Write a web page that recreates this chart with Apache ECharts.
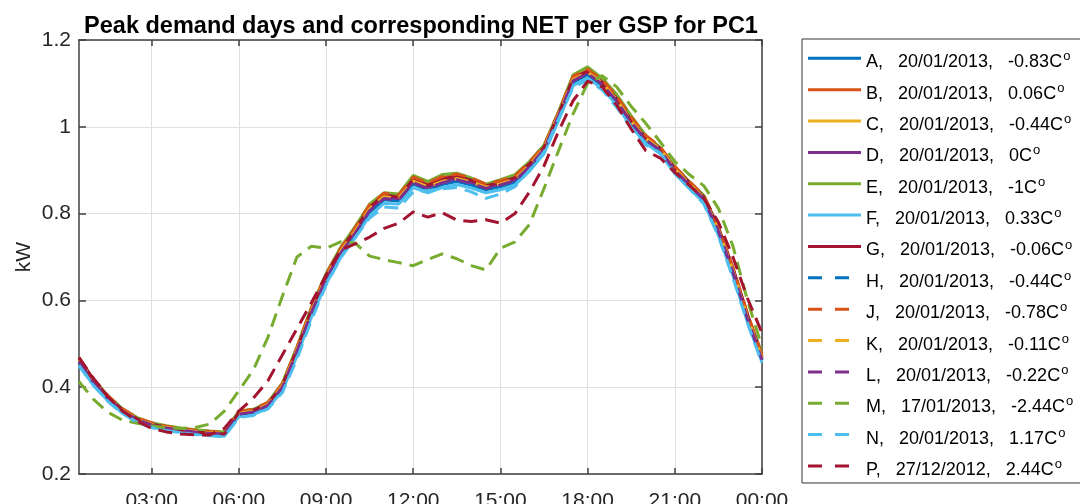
<!DOCTYPE html>
<html>
<head>
<meta charset="utf-8">
<script src="https://cdn.jsdelivr.net/npm/echarts@6/dist/echarts.min.js"></script>
<style>
  html, body { margin: 0; padding: 0; background: #ffffff; }
  #chart { width: 1080px; height: 504px; }
</style>
</head>
<body>
<div id="chart"></div>
<script>
// Half-hourly settlement periods, 00:30 through midnight
const times = [
  '00:30','01:00','01:30','02:00','02:30','03:00','03:30','04:00','04:30','05:00','05:30','06:00',
  '06:30','07:00','07:30','08:00','08:30','09:00','09:30','10:00','10:30','11:00','11:30','12:00',
  '12:30','13:00','13:30','14:00','14:30','15:00','15:30','16:00','16:30','17:00','17:30','18:00',
  '18:30','19:00','19:30','20:00','20:30','21:00','21:30','22:00','22:30','23:00','23:30','00:00'
];
const tickLabels = ['03:00','06:00','09:00','12:00','15:00','18:00','21:00','00:00'];
const yTicks = [0.2, 0.4, 0.6, 0.8, 1.0, 1.2];

// GSP groups, peak day and day temperature
const names = ['A','B','C','D','E','F','G','H','J','K','L','M','N','P'];
const dates = ['20/01/2013','20/01/2013','20/01/2013','20/01/2013','20/01/2013','20/01/2013','20/01/2013',
               '20/01/2013','20/01/2013','20/01/2013','20/01/2013','17/01/2013','20/01/2013','27/12/2012'];
const temps = ['-0.83','0.06','-0.44','0','-1','0.33','-0.06','-0.44','-0.78','-0.11','-0.22','-2.44','1.17','2.44'];

// Demand profiles (kW)
const netA = [0.458,0.410,0.373,0.344,0.324,0.312,0.305,0.300,0.296,0.293,0.291,0.337,0.342,0.357,0.398,0.480,0.570,0.647,0.707,0.752,0.803,0.832,0.829,0.868,0.855,0.867,0.874,0.866,0.855,0.862,0.872,0.905,0.945,1.022,1.102,1.120,1.095,1.057,1.007,0.968,0.944,0.898,0.864,0.831,0.757,0.663,0.555,0.462];
const netB = [0.466,0.418,0.379,0.349,0.329,0.317,0.309,0.304,0.300,0.297,0.295,0.343,0.348,0.364,0.407,0.490,0.581,0.658,0.718,0.765,0.818,0.845,0.841,0.882,0.869,0.883,0.889,0.880,0.866,0.874,0.885,0.916,0.955,1.032,1.114,1.131,1.106,1.069,1.020,0.978,0.952,0.907,0.872,0.840,0.767,0.673,0.566,0.470];
const netC = [0.463,0.415,0.377,0.347,0.327,0.315,0.308,0.303,0.299,0.296,0.294,0.341,0.346,0.361,0.404,0.487,0.578,0.655,0.715,0.761,0.813,0.841,0.837,0.878,0.864,0.877,0.884,0.875,0.862,0.870,0.881,0.913,0.952,1.030,1.110,1.127,1.103,1.065,1.015,0.974,0.950,0.904,0.870,0.837,0.764,0.670,0.562,0.468];
const netD = [0.462,0.414,0.376,0.346,0.326,0.314,0.307,0.302,0.298,0.295,0.293,0.340,0.345,0.360,0.402,0.485,0.575,0.652,0.712,0.758,0.810,0.838,0.834,0.874,0.860,0.873,0.880,0.872,0.860,0.868,0.878,0.910,0.950,1.028,1.108,1.125,1.100,1.062,1.012,0.972,0.948,0.902,0.868,0.835,0.762,0.668,0.560,0.466];
const netE = [0.465,0.418,0.380,0.350,0.330,0.318,0.311,0.306,0.302,0.299,0.297,0.345,0.349,0.365,0.410,0.493,0.585,0.662,0.722,0.770,0.822,0.848,0.845,0.888,0.874,0.890,0.893,0.882,0.868,0.878,0.890,0.920,0.958,1.035,1.120,1.138,1.112,1.075,1.025,0.980,0.952,0.908,0.874,0.842,0.768,0.672,0.565,0.478];
const netF = [0.450,0.404,0.368,0.340,0.320,0.308,0.301,0.296,0.292,0.289,0.287,0.332,0.337,0.352,0.392,0.472,0.562,0.638,0.698,0.744,0.795,0.824,0.822,0.860,0.848,0.860,0.867,0.859,0.848,0.855,0.866,0.898,0.938,1.015,1.095,1.112,1.088,1.050,1.000,0.962,0.938,0.892,0.858,0.825,0.750,0.657,0.550,0.457];
const netG = [0.468,0.417,0.378,0.348,0.327,0.315,0.308,0.302,0.297,0.294,0.292,0.342,0.347,0.362,0.405,0.488,0.580,0.657,0.716,0.763,0.815,0.843,0.838,0.880,0.865,0.880,0.886,0.877,0.864,0.872,0.883,0.915,0.953,1.030,1.112,1.128,1.103,1.065,1.015,0.975,0.950,0.905,0.872,0.838,0.768,0.675,0.568,0.472];
const netH = [0.460,0.412,0.374,0.345,0.325,0.313,0.306,0.301,0.297,0.294,0.292,0.338,0.343,0.358,0.400,0.482,0.572,0.650,0.710,0.755,0.806,0.835,0.831,0.871,0.858,0.870,0.877,0.869,0.857,0.865,0.875,0.907,0.947,1.025,1.105,1.122,1.097,1.060,1.010,0.970,0.946,0.900,0.866,0.833,0.760,0.665,0.558,0.464];
const netJ = [0.467,0.419,0.380,0.350,0.330,0.318,0.310,0.305,0.301,0.298,0.296,0.344,0.349,0.365,0.408,0.492,0.583,0.660,0.720,0.767,0.820,0.847,0.843,0.884,0.871,0.885,0.891,0.882,0.868,0.876,0.887,0.918,0.957,1.034,1.116,1.133,1.108,1.071,1.022,0.980,0.954,0.909,0.874,0.842,0.770,0.676,0.570,0.474];
const netK = [0.462,0.414,0.376,0.346,0.326,0.314,0.307,0.302,0.298,0.295,0.293,0.340,0.345,0.360,0.403,0.486,0.576,0.653,0.713,0.759,0.811,0.839,0.835,0.875,0.862,0.874,0.881,0.873,0.861,0.869,0.879,0.911,0.951,1.029,1.109,1.126,1.101,1.063,1.013,0.973,0.949,0.903,0.869,0.836,0.763,0.669,0.561,0.467];
const netL = [0.460,0.412,0.375,0.345,0.325,0.313,0.306,0.301,0.297,0.294,0.292,0.338,0.343,0.358,0.400,0.483,0.573,0.650,0.709,0.755,0.807,0.835,0.832,0.871,0.858,0.871,0.878,0.870,0.858,0.866,0.876,0.908,0.948,1.026,1.106,1.123,1.098,1.060,1.010,0.970,0.946,0.900,0.866,0.833,0.760,0.666,0.558,0.463];
const netM = [0.413,0.372,0.342,0.324,0.317,0.311,0.307,0.305,0.307,0.315,0.345,0.392,0.440,0.515,0.610,0.700,0.725,0.720,0.735,0.732,0.702,0.694,0.687,0.680,0.694,0.707,0.696,0.680,0.670,0.720,0.735,0.775,0.858,0.945,1.030,1.100,1.118,1.092,1.047,1.008,0.965,0.920,0.890,0.864,0.812,0.725,0.600,0.493];
const netN = [0.450,0.404,0.367,0.339,0.319,0.307,0.300,0.295,0.291,0.288,0.286,0.330,0.335,0.350,0.388,0.465,0.555,0.635,0.698,0.745,0.790,0.815,0.813,0.850,0.853,0.857,0.860,0.850,0.835,0.845,0.862,0.900,0.942,1.018,1.090,1.108,1.085,1.045,0.998,0.958,0.940,0.893,0.858,0.822,0.748,0.652,0.548,0.455];
const netP = [0.468,0.420,0.378,0.345,0.322,0.305,0.297,0.292,0.290,0.290,0.305,0.345,0.375,0.415,0.475,0.535,0.595,0.658,0.716,0.730,0.746,0.766,0.778,0.804,0.792,0.802,0.785,0.782,0.786,0.778,0.800,0.850,0.910,0.990,1.060,1.105,1.092,1.050,0.995,0.945,0.928,0.895,0.865,0.835,0.780,0.700,0.605,0.525];

const profiles = [netA, netB, netC, netD, netE, netF, netG, netH, netJ, netK, netL, netM, netN, netP];
const palette = ['#0072BD','#D95319','#EDB120','#7E2F8E','#77AC30','#4DBEEE','#A2142F'];

const FONT = '"Liberation Sans", Arial, Helvetica, sans-serif';
const AXIS_COLOR = '#404040';
const isTick = (idx, val) => tickLabels.indexOf(val) >= 0;

const solidIcon = 'path://M0 0H53V3H0Z';
const dashIcon = 'path://M0 0H14V3H0Z M27 0H41V3H27Z M53 0H53.01V0.01H53Z';

const series = names.map((n, i) => ({
  name: n,
  type: 'line',
  data: profiles[i],
  symbol: 'none',
  smooth: false,
  color: palette[i % 7],
  lineStyle: { width: 3, color: palette[i % 7], type: i < 7 ? 'solid' : [14, 8] },
  emphasis: { disabled: true },
  z: 2
}));

const chart = echarts.init(document.getElementById('chart'), null, { renderer: 'canvas' });
chart.setOption({
  animation: false,
  backgroundColor: '#ffffff',
  title: {
    text: 'Peak demand days and corresponding NET per GSP for PC1',
    left: 416, top: 10, textAlign: 'center',
    textStyle: { fontFamily: FONT, fontSize: 23.5, fontWeight: 'bold', color: '#000000' }
  },
  grid: { left: 79, right: 318, top: 40, bottom: 30, containLabel: false, outerBoundsMode: 'none' },
  legend: {
    orient: 'vertical',
    left: 802, top: 39,
    padding: [4.3, 80, 2, 6],
    itemGap: 1.36,
    itemWidth: 53, itemHeight: 3,
    symbolKeepAspect: false,
    selectedMode: false,
    borderColor: '#333333', borderWidth: 1,
    backgroundColor: '#ffffff',
    itemStyle: { borderWidth: 0 },
    data: names.map((n, i) => ({ name: n, icon: i < 7 ? solidIcon : dashIcon })),
    formatter: (name) => {
      const i = names.indexOf(name);
      return '{t|' + name + ',   ' + dates[i] + ',   ' + temps[i] + 'C}{s|o}';
    },
    textStyle: {
      fontFamily: FONT, color: '#000000',
      rich: {
        t: { fontFamily: FONT, fontSize: 18, lineHeight: 20, padding: [10, 0, 2, 0], color: '#000000' },
        s: { fontFamily: FONT, fontSize: 13, lineHeight: 13, verticalAlign: 'top', padding: [2, 0, 0, 1], color: '#000000' }
      }
    }
  },
  xAxis: [{
    type: 'category',
    data: times,
    boundaryGap: false,
    axisLine: { show: true, onZero: false, lineStyle: { color: AXIS_COLOR, width: 1.5 } },
    axisTick: { show: true, inside: true, length: 6, interval: isTick, lineStyle: { color: AXIS_COLOR, width: 1.5 } },
    axisLabel: { show: true, interval: isTick, margin: 17, fontFamily: FONT, fontSize: 21, color: '#262626' },
    splitLine: { show: true, interval: isTick, lineStyle: { color: '#dfdfdf', width: 1 } }
  }, {
    type: 'category',
    data: times,
    position: 'top',
    boundaryGap: false,
    axisLine: { show: true, onZero: false, lineStyle: { color: AXIS_COLOR, width: 1.5 } },
    axisTick: { show: true, inside: true, length: 6, interval: isTick, lineStyle: { color: AXIS_COLOR, width: 1.5 } },
    axisLabel: { show: false },
    splitLine: { show: false }
  }],
  yAxis: [{
    type: 'value',
    min: yTicks[0], max: yTicks[yTicks.length - 1], interval: 0.2,
    name: 'kW', nameLocation: 'middle', nameGap: 44, nameMoveOverlap: false,
    nameTextStyle: { fontFamily: FONT, fontSize: 21, color: '#262626' },
    axisLine: { show: true, onZero: false, lineStyle: { color: AXIS_COLOR, width: 1.5 } },
    axisTick: { show: true, inside: true, length: 7, lineStyle: { color: AXIS_COLOR, width: 1.5 } },
    axisLabel: { margin: 8, fontFamily: FONT, fontSize: 21, color: '#262626',
                 formatter: (v) => String(+v.toFixed(1)) },
    splitLine: { show: true, lineStyle: { color: '#dfdfdf', width: 1 } }
  }, {
    type: 'value',
    position: 'right',
    min: yTicks[0], max: yTicks[yTicks.length - 1], interval: 0.2,
    axisLine: { show: true, onZero: false, lineStyle: { color: AXIS_COLOR, width: 1.5 } },
    axisTick: { show: true, inside: true, length: 7, lineStyle: { color: AXIS_COLOR, width: 1.5 } },
    axisLabel: { show: false },
    splitLine: { show: false }
  }],
  series: series
});
</script>
</body>
</html>
